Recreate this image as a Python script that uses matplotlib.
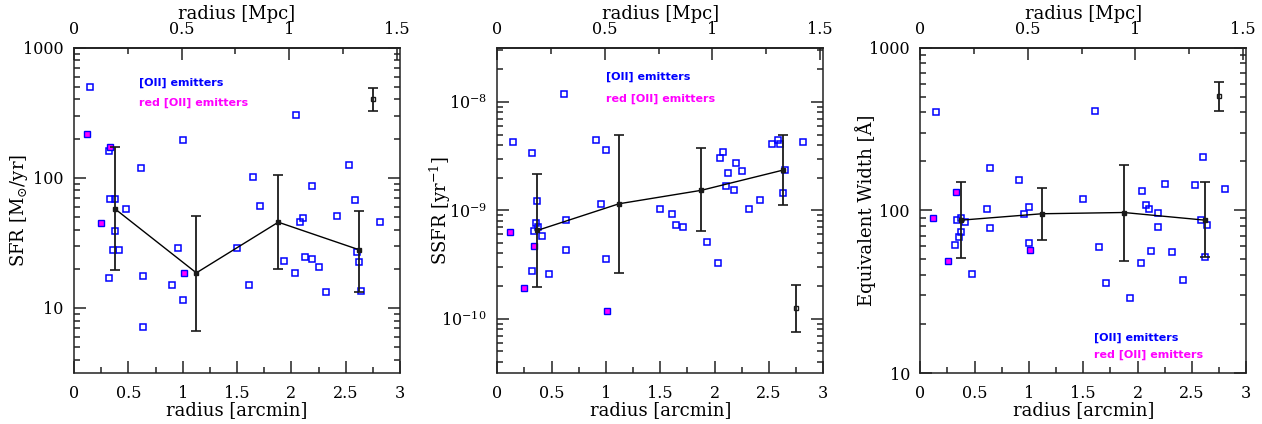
import numpy as np
import matplotlib
matplotlib.use('Agg')
import matplotlib.pyplot as plt
from matplotlib.ticker import MultipleLocator, LogLocator, NullFormatter, FormatStrFormatter, FuncFormatter

plt.rcParams['font.family'] = ['DejaVu Serif']
plt.rcParams['mathtext.fontset'] = 'dejavuserif'

# ---- SFR panel ----
sfr_r = [0.147, 0.322, 0.334, 0.377, 0.377, 0.362, 0.411, 0.319, 0.479, 0.62, 0.638, 0.638,
         0.905, 0.96, 1.0, 1.0, 1.5, 1.607, 1.647, 1.709, 1.936, 2.037, 2.046, 2.083, 2.11,
         2.129, 2.193, 2.19, 2.258, 2.322, 2.423, 2.53, 2.589, 2.604, 2.626, 2.641, 2.813]
sfr = [497, 160, 69, 69, 39, 28, 28, 17, 58, 119, 17.5, 7.1, 15.1, 29, 195, 11.5, 29, 15, 101,
       61, 23, 18.5, 305, 45.6, 49, 24.7, 86.7, 23.7, 20.8, 13.2, 51, 125, 68, 27, 22.6, 13.5, 46]
sfr_red_r = [0.12, 0.252, 0.334, 1.012]
sfr_red = [219, 45, 172, 18.6]
sfr_bin_r = [0.374, 1.126, 1.88, 2.623]
sfr_bin = [58, 18.6, 45.6, 28]
sfr_bin_lo = [19.4, 6.7, 19.8, 13.2]
sfr_bin_hi = [173, 51, 105, 56]
sfr_err_pt = [2.755, 401, 324, 487]  # r, value, low, high

# ---- SSFR panel (units of 1e-9 / yr) ----
ssfr_r = [0.147, 0.319, 0.334, 0.356, 0.377, 0.368, 0.408, 0.319, 0.479, 0.617, 0.635, 0.632,
          0.905, 0.954, 0.997, 0.997, 1.497, 1.607, 1.644, 1.709, 1.933, 2.034, 2.046, 2.08,
          2.104, 2.126, 2.181, 2.193, 2.255, 2.319, 2.42, 2.525, 2.586, 2.601, 2.626, 2.644, 2.813]
ssfr = [4.29, 3.37, 0.649, 0.767, 0.705, 1.21, 0.58, 0.278, 0.259, 11.9, 0.818, 0.431,
        4.5, 1.156, 3.57, 0.358, 1.02, 0.922, 0.726, 0.695, 0.506, 0.324, 3.01, 3.42,
        1.69, 2.19, 1.54, 2.75, 2.31, 1.02, 1.25, 4.11, 4.48, 4.11, 1.44, 2.34, 4.29]
ssfr_red_r = [0.117, 0.248, 0.334, 1.012]
ssfr_red = [0.625, 0.193, 0.469, 0.118]
ssfr_bin_r = [0.368, 1.12, 1.877, 2.629]
ssfr_bin = [0.653, 1.15, 1.53, 2.35]
ssfr_bin_lo = [0.195, 0.265, 0.64, 1.12]
ssfr_bin_hi = [2.15, 4.98, 3.73, 4.94]
ssfr_err_pt = [2.748, 0.125, 0.076, 0.207]

# ---- EW panel ----
ew_r = [0.147, 0.321, 0.334, 0.358, 0.376, 0.376, 0.41, 0.477, 0.618, 0.637, 0.64, 0.906,
        0.958, 0.998, 1.001, 1.5, 1.607, 1.641, 1.708, 1.931, 2.032, 2.042, 2.078, 2.103,
        2.124, 2.192, 2.185, 2.253, 2.317, 2.415, 2.525, 2.58, 2.599, 2.623, 2.639, 2.807]
ew = [403, 61, 87, 68.4, 73.8, 89.6, 85, 40.4, 101.6, 181, 78, 153, 94.6, 105.6, 62.6, 117,
      408, 59.4, 36, 28.8, 47.4, 132, 107.7, 101.6, 56, 97, 79, 145, 55.3, 37.4, 144, 87,
      213, 52, 80.7, 135.5]
ew_red_r = [0.116, 0.251, 0.331, 1.01]
ew_red = [90.3, 48.8, 129, 57]
ew_bin_r = [0.373, 1.12, 1.873, 2.623]
ew_bin = [87, 95.3, 97, 87]
ew_bin_lo = [50.6, 66, 49, 52]
ew_bin_hi = [150, 137, 191, 150]
ew_err_pt = [2.749, 502, 408, 615]

arcmin_per_mpc = 1.98

s9 = 1e-9
panels = [
    dict(r=sfr_r, v=np.array(sfr), rr=sfr_red_r, rv=np.array(sfr_red), br=sfr_bin_r,
         bv=np.array(sfr_bin), lo=np.array(sfr_bin_lo), hi=np.array(sfr_bin_hi),
         ep=sfr_err_pt, scale=1.0, ylim=(10 ** 0.5, 1000), ylabel=r'SFR [M$_{\odot}$/yr]',
         left=74, leg=(0.2, 0.891, 0.831), sci=False),
    dict(r=ssfr_r, v=np.array(ssfr) * s9, rr=ssfr_red_r, rv=np.array(ssfr_red) * s9, br=ssfr_bin_r,
         bv=np.array(ssfr_bin) * s9, lo=np.array(ssfr_bin_lo) * s9, hi=np.array(ssfr_bin_hi) * s9,
         ep=ssfr_err_pt, scale=s9, ylim=(10 ** -10.5, 10 ** -7.5), ylabel=r'SSFR [yr$^{-1}$]',
         left=497.3, leg=(0.332, 0.911, 0.844), sci=True),
    dict(r=ew_r, v=np.array(ew), rr=ew_red_r, rv=np.array(ew_red), br=ew_bin_r,
         bv=np.array(ew_bin), lo=np.array(ew_bin_lo), hi=np.array(ew_bin_hi),
         ep=ew_err_pt, scale=1.0, ylim=(10, 1000), ylabel='Equivalent Width [Å]',
         left=920.3, leg=(0.533, 0.107, 0.057), sci=False),
]

fig = plt.figure(figsize=(12.62, 4.24), dpi=100)
W, H = 1262.0, 424.0

for p in panels:
    ax = fig.add_axes([p['left'] / W, 51 / H, 326 / W, 325.3 / H])
    ax.set_yscale('log')

    ax.plot(p['r'], p['v'], 's', ms=4.1, mfc='none', mec='#0000ff', mew=1.1, ls='none', zorder=3)
    ax.plot(p['rr'], p['rv'], 's', ms=4.1, mfc='#ff00ff', mec='#0000ff', mew=1.0, ls='none', zorder=4)

    ax.plot(p['br'], p['bv'], '-', color='black', lw=1.0, zorder=5)
    ax.errorbar(p['br'], p['bv'], yerr=[p['bv'] - p['lo'], p['hi'] - p['bv']], fmt='s', ms=2.2,
                color='#1a1a1a', ecolor='#1a1a1a', elinewidth=1.3, capsize=3.5, capthick=1.2, zorder=6)
    er, ev, elo, ehi = p['ep']
    ev, elo, ehi = ev * p['scale'], elo * p['scale'], ehi * p['scale']
    ax.errorbar([er], [ev], yerr=[[ev - elo], [ehi - ev]], fmt='s', ms=2.8, mfc='none',
                color='#1a1a1a', elinewidth=1.3, capsize=3.5, capthick=1.2, zorder=6)

    ax.set_xlim(0, 3)
    ax.set_ylim(*p['ylim'])
    ax.xaxis.set_major_locator(MultipleLocator(0.5))
    ax.xaxis.set_minor_locator(MultipleLocator(0.25))
    ax.xaxis.set_major_formatter(FormatStrFormatter('%g'))
    ax.yaxis.set_major_locator(LogLocator(base=10))
    ax.yaxis.set_minor_locator(LogLocator(base=10, subs=np.arange(2, 10)))
    ax.yaxis.set_minor_formatter(NullFormatter())
    if not p['sci']:
        ax.yaxis.set_major_formatter(FuncFormatter(lambda y, pos: '%g' % y))

    ax.tick_params(which='both', direction='in', top=False, right=True, width=1.1,
                   labelsize=11.5, colors='#222222', labelcolor='black')
    ax.tick_params(which='major', length=8.5)
    ax.tick_params(which='minor', length=4.3)
    ax.tick_params(axis='x', pad=8.5)
    ax.tick_params(axis='y', pad=7.5)
    for sp in ax.spines.values():
        sp.set_linewidth(1.1)
        sp.set_color('#222222')

    ax.set_xlabel('radius [arcmin]', fontsize=13, labelpad=-0.5)
    ax.set_ylabel(p['ylabel'], fontsize=13)
    ax.yaxis.set_label_coords(-0.135, 0.5)

    sec = ax.secondary_xaxis('top', functions=(lambda x: x / arcmin_per_mpc, lambda m: m * arcmin_per_mpc))
    sec.xaxis.set_major_locator(MultipleLocator(0.5))
    sec.xaxis.set_minor_locator(MultipleLocator(0.25))
    sec.xaxis.set_major_formatter(FormatStrFormatter('%g'))
    sec.tick_params(which='both', direction='in', width=1.1, labelsize=11.5, pad=7, colors='#222222',
                    labelcolor='black')
    sec.tick_params(which='major', length=8.5)
    sec.tick_params(which='minor', length=4.3)
    sec.spines['top'].set_linewidth(1.1)
    sec.set_xlabel('radius [Mpc]', fontsize=13, labelpad=1.5)

    lx, ly1, ly2 = p['leg']
    ax.text(lx, ly1, '[OII] emitters', transform=ax.transAxes, color='#0000ff', fontsize=8,
            fontweight='bold', family='DejaVu Sans', ha='left', va='center')
    ax.text(lx, ly2, 'red [OII] emitters', transform=ax.transAxes, color='#ff00ff', fontsize=8,
            fontweight='bold', family='DejaVu Sans', ha='left', va='center')

fig.savefig('out.png', dpi=100)
